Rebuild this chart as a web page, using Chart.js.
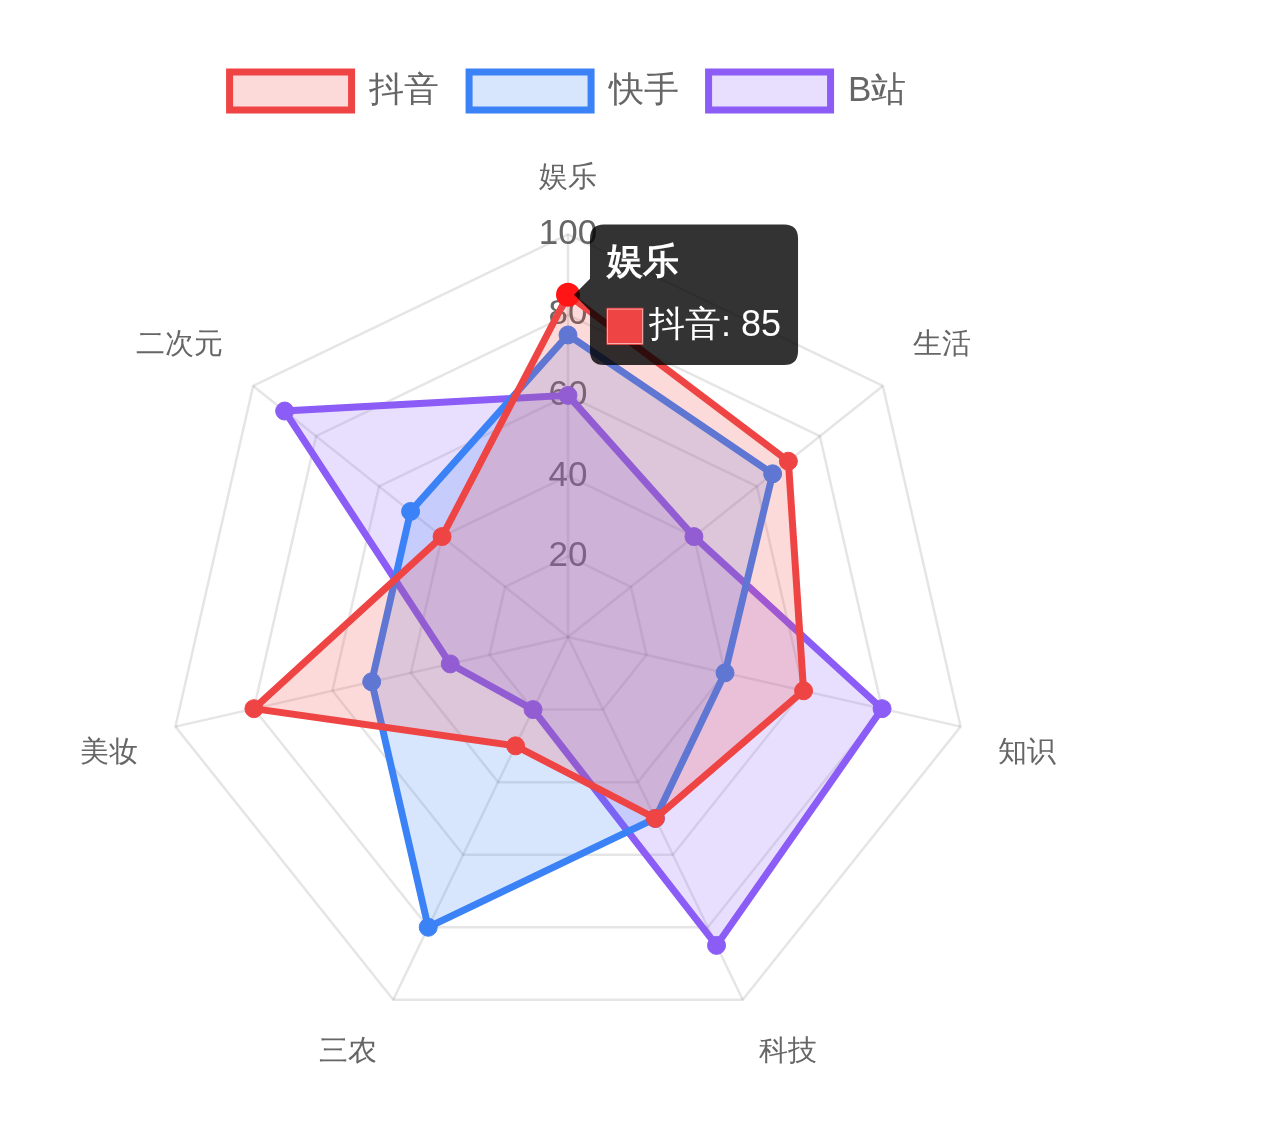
<!DOCTYPE html>
<html>
<head>
<meta charset="utf-8">
<script src="https://cdn.jsdelivr.net/npm/chart.js@4.4.1/dist/chart.umd.min.js"></script>
<style>
  body { margin: 0; background: #fff; }
  #wrap { width: 1136px; height: 1049px; padding-top: 42px; }
</style>
</head>
<body>
<div id="wrap"><canvas id="radarChart"></canvas></div>
<script>
const categories = ['娱乐', '生活', '知识', '科技', '三农', '美妆', '二次元'];
const douyin     = [85, 70, 60, 50, 30, 80, 40];
const kuaishou   = [75, 65, 40, 50, 80, 50, 50];
const bilibili   = [60, 40, 80, 85, 20, 30, 90];

// extra gap under the legend
const legendGap = {
  id: 'legendGap',
  beforeInit(chart) {
    const fit = chart.legend.fit;
    chart.legend.fit = function () {
      fit.bind(chart.legend)();
      this.height += 18;
    };
  }
};

function drawRadar() {
  const canvas = document.getElementById('radarChart');
  const ctx = canvas.getContext('2d');

  const chart = new Chart(ctx, {
    type: 'radar',
    data: {
      labels: categories,
      datasets: [
        {
          label: '抖音',
          data: douyin,
          borderColor: '#ef4444',
          backgroundColor: 'rgba(239, 68, 68, 0.2)',
          pointBackgroundColor: '#ef4444',
          pointBorderColor: '#ef4444',
        },
        {
          label: '快手',
          data: kuaishou,
          borderColor: '#3b82f6',
          backgroundColor: 'rgba(59, 130, 246, 0.2)',
          pointBackgroundColor: '#3b82f6',
          pointBorderColor: '#3b82f6',
        },
        {
          label: 'B站',
          data: bilibili,
          borderColor: '#8b5cf6',
          backgroundColor: 'rgba(139, 92, 246, 0.2)',
          pointBackgroundColor: '#8b5cf6',
          pointBorderColor: '#8b5cf6',
        }
      ]
    },
    options: {
      responsive: true,
      maintainAspectRatio: false,
      animation: false,
      elements: {
        line:  { borderWidth: 7 },
        point: { radius: 9, borderWidth: 1, hoverRadius: 11, hoverBorderWidth: 2 }
      },
      plugins: {
        legend: {
          labels: {
            color: '#666',
            font: { size: 35 },
            boxWidth: 122,
            boxHeight: 38,
            padding: 30
          }
        },
        tooltip: {
          backgroundColor: 'rgba(0, 0, 0, 0.8)',
          xAlign: 'left',
          padding: 17,
          cornerRadius: 14,
          caretSize: 16,
          caretPadding: 6,
          titleFont: { size: 36, weight: 'bold' },
          bodyFont:  { size: 36 },
          titleMarginBottom: 20,
          boxPadding: 4
        }
      },
      scales: {
        r: {
          min: 0,
          max: 100,
          grid:       { lineWidth: 2.5 },
          angleLines: { lineWidth: 2.5 },
          ticks: {
            stepSize: 20,
            color: '#666',
            font: { size: 35 },
            showLabelBackdrop: false
          },
          pointLabels: {
            color: '#666',
            padding: 19,
            font: { size: 29 }
          }
        }
      }
    },
    plugins: [legendGap]
  });

  const active = [{ datasetIndex: 0, index: 0 }];
  chart.setActiveElements(active);
  const pt = chart.getDatasetMeta(0).data[0];
  chart.tooltip.setActiveElements(active, { x: pt.x, y: pt.y });
  chart.update();
}

window.addEventListener('DOMContentLoaded', () => {
  drawRadar();
});
</script>
</body>
</html>
